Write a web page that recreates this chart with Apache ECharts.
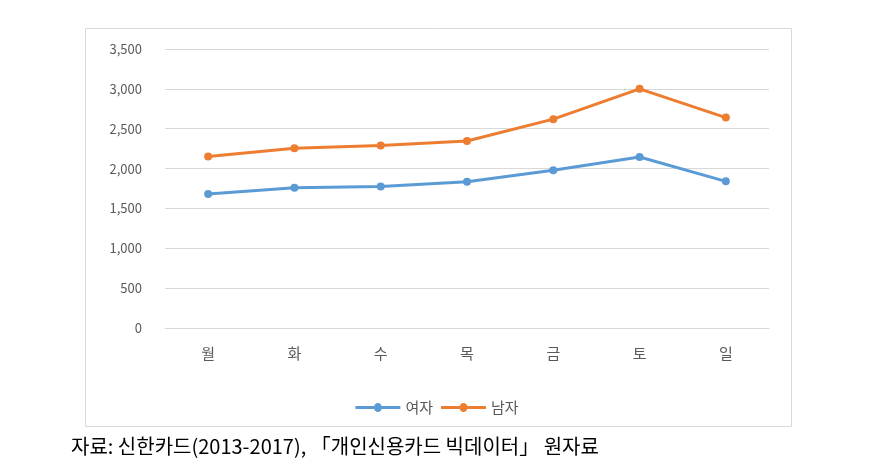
<!DOCTYPE html>
<html>
<head>
<meta charset="utf-8">
<script src="https://cdn.jsdelivr.net/npm/echarts@6/dist/echarts.min.js"></script>
<style>html,body{margin:0;padding:0;background:#fff;}#c{width:874px;height:471px;}</style>
</head>
<body>
<div id="c"></div>
<script>
var categories = ['월', '화', '수', '목', '금', '토', '일'];
var female = [1680, 1760, 1775, 1835, 1980, 2145, 1840];
var male = [2150, 2255, 2290, 2345, 2620, 3000, 2640];
var seriesNames = ['여자', '남자'];
var caption = '자료: 신한카드(2013-2017), 「개인신용카드 빅데이터」 원자료';

var chart = echarts.init(document.getElementById('c'));
var font = '"Noto Sans CJK KR", "Noto Sans", sans-serif';
chart.setOption({
  animation: false,
  backgroundColor: '#fff',
  textStyle: { fontFamily: font },
  graphic: [
    { type: 'rect', shape: { x: 85.5, y: 28.5, width: 706, height: 398 }, style: { fill: 'none', stroke: '#d9d9d9', lineWidth: 1 }, z: -1 },
    { type: 'text', left: 71, top: 436, style: { text: caption, fill: '#000', font: '20px ' + font } }
  ],
  legend: {
    data: seriesNames,
    left: 'center',
    top: 395,
    itemWidth: 45,
    itemHeight: 9,
    itemGap: 8,
    textStyle: { fontSize: 15, color: '#595959', fontFamily: font },
    icon: 'path://M0,3 L18.6,3 L18.6,6 L0,6 Z M26.4,3 L45,3 L45,6 L26.4,6 Z M18.5,4.5 A4,4.5 0 1,1 26.5,4.5 A4,4.5 0 1,1 18.5,4.5 Z'
  },
  grid: { left: 165, right: 105, top: 49, bottom: 143 },
  xAxis: {
    type: 'category',
    data: categories,
    boundaryGap: true,
    axisLine: { show: true, lineStyle: { color: '#d9d9d9' } },
    axisTick: { show: false },
    axisLabel: { color: '#595959', fontSize: 15, margin: 18, fontFamily: font }
  },
  yAxis: {
    type: 'value',
    min: 0, max: 3500, interval: 500,
    axisLine: { show: false },
    axisTick: { show: false },
    splitLine: { lineStyle: { color: '#d9d9d9' } },
    axisLabel: {
      color: '#595959', fontSize: 13, margin: 23, fontFamily: font,
      formatter: function (v) { return v.toLocaleString('en-US'); }
    }
  },
  series: [
    { name: seriesNames[0], type: 'line', data: female, symbol: 'circle', symbolSize: 8,
      itemStyle: { color: '#5B9BD5' }, lineStyle: { width: 3, color: '#5B9BD5' } },
    { name: seriesNames[1], type: 'line', data: male, symbol: 'circle', symbolSize: 8,
      itemStyle: { color: '#ED7D31' }, lineStyle: { width: 3, color: '#ED7D31' } }
  ]
});
</script>
</body>
</html>
